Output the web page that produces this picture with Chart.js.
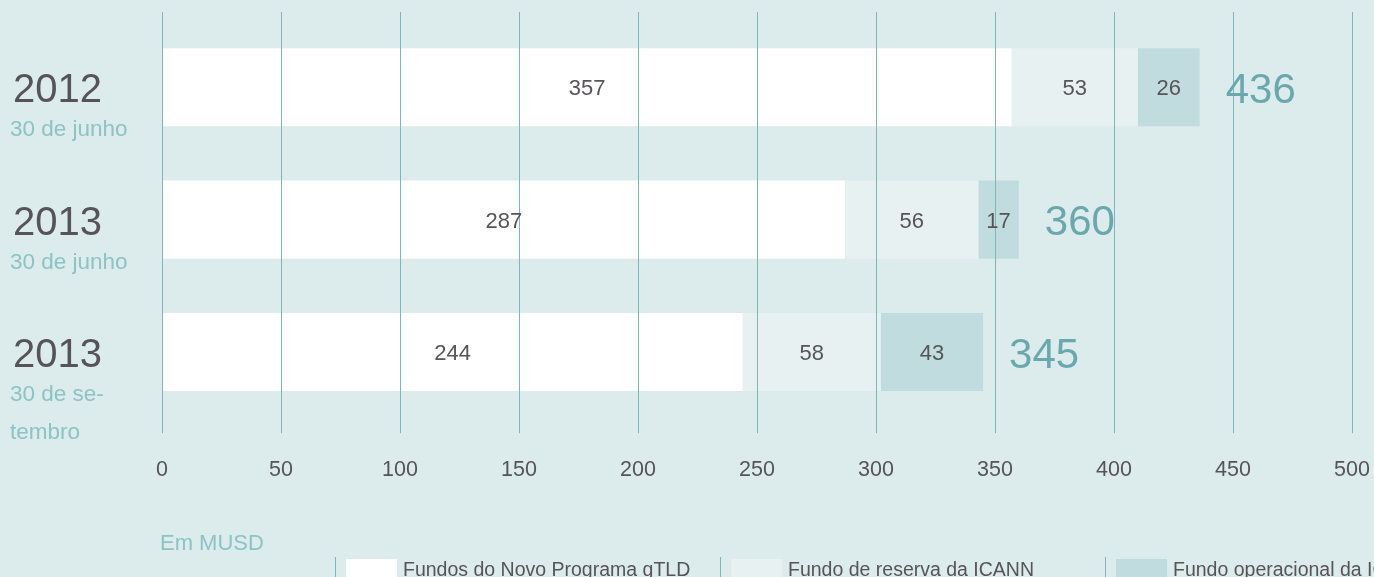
<!DOCTYPE html>
<html>
<head>
<meta charset="utf-8">
<script src="https://cdn.jsdelivr.net/npm/chart.js@4"></script>
<style>
  html, body { margin: 0; padding: 0; background: #dcebec; overflow: hidden; }
  canvas { display: block; }
</style>
</head>
<body>
<canvas id="chart" width="1374" height="577"></canvas>
<script>
// data (values in MUSD)
const years = ['2012', '2013', '2013'];
const dates = [['30 de junho'], ['30 de junho'], ['30 de se-', 'tembro']];
const gtldFunds = [357, 287, 244];
const reserveFund = [53, 56, 58];
const operatingFund = [26, 17, 43];
const totals = [436, 360, 345];
const seriesNames = ['Fundos do Novo Programa gTLD', 'Fundo de reserva da ICANN', 'Fundo operacional da ICANN'];
const unitNote = 'Em MUSD';

const FONT = '"Liberation Sans", Arial, sans-serif';
const DARK = '#575457';
const TEAL = '#6aa8ad';
const TEAL_LIGHT = '#8dc3c5';
const GRID = '#7db6b9';

// left category labels (year + date)
const sideLabels = {
  id: 'sideLabels',
  afterDraw(chart) {
    const ctx = chart.ctx;
    const y = chart.scales.y;
    ctx.save();
    ctx.textAlign = 'left';
    ctx.textBaseline = 'middle';
    years.forEach((yr, i) => {
      const cy = y.getPixelForValue(i);
      ctx.fillStyle = DARK;
      ctx.font = '40px ' + FONT;
      ctx.fillText(yr, 13, cy + 4);
      ctx.fillStyle = TEAL_LIGHT;
      ctx.font = '22.5px ' + FONT;
      dates[i].forEach((line, k) => ctx.fillText(line, 10, cy + 43 + k * 38));
    });
    ctx.restore();
  }
};

// numbers inside the segments and totals after the bars
const barLabels = {
  id: 'barLabels',
  afterDraw(chart) {
    const ctx = chart.ctx;
    ctx.save();
    ctx.textAlign = 'center';
    ctx.textBaseline = 'middle';
    ctx.font = '22px ' + FONT;
    ctx.fillStyle = DARK;
    chart.data.datasets.forEach((ds, d) => {
      chart.getDatasetMeta(d).data.forEach((el, i) => {
        ctx.fillText(String(ds.data[i]), (el.x + el.base) / 2, el.y + 2);
      });
    });
    const last = chart.getDatasetMeta(chart.data.datasets.length - 1).data;
    ctx.textAlign = 'left';
    ctx.font = '42px ' + FONT;
    ctx.fillStyle = TEAL;
    last.forEach((el, i) => ctx.fillText(String(totals[i]), el.x + 26, el.y + 4));
    ctx.restore();
  }
};

// grid lines reach a bit above the plot, note + custom legend at the bottom
const extras = {
  id: 'extras',
  afterDraw(chart) {
    const ctx = chart.ctx;
    const x = chart.scales.x;
    const top = chart.chartArea.top;
    ctx.save();
    ctx.strokeStyle = GRID;
    ctx.lineWidth = 1;
    x.ticks.forEach(t => {
      const px = Math.round(x.getPixelForValue(t.value) - 0.5) + 0.5;
      ctx.beginPath();
      ctx.moveTo(px, 12);
      ctx.lineTo(px, top);
      ctx.stroke();
    });

    ctx.fillStyle = TEAL_LIGHT;
    ctx.font = '22px ' + FONT;
    ctx.textAlign = 'left';
    ctx.textBaseline = 'alphabetic';
    ctx.fillText(unitNote, 160, 550);

    ctx.font = '19.5px ' + FONT;
    chart.data.datasets.forEach((ds, i) => {
      const lx = 335 + i * 385;
      ctx.strokeStyle = GRID;
      ctx.beginPath();
      ctx.moveTo(lx + 0.5, 557);
      ctx.lineTo(lx + 0.5, 577);
      ctx.stroke();
      ctx.fillStyle = ds.backgroundColor;
      ctx.fillRect(lx + 11, 559, 51, 18);
      ctx.fillStyle = DARK;
      ctx.fillText(seriesNames[i], lx + 68, 576);
    });
    ctx.restore();
  }
};

new Chart(document.getElementById('chart'), {
  type: 'bar',
  data: {
    labels: years,
    datasets: [
      { label: seriesNames[0], data: gtldFunds, backgroundColor: '#ffffff' },
      { label: seriesNames[1], data: reserveFund, backgroundColor: '#e7f1f2' },
      { label: seriesNames[2], data: operatingFund, backgroundColor: '#c0dcdf' }
    ]
  },
  options: {
    indexAxis: 'y',
    responsive: false,
    animation: false,
    devicePixelRatio: 1,
    layout: { padding: { left: 162, right: 22, top: 21, bottom: 70 } },
    datasets: { bar: { categoryPercentage: 1, barPercentage: 0.59, borderWidth: 0 } },
    scales: {
      x: {
        stacked: true,
        min: 0,
        max: 500,
        border: { display: false },
        grid: { z: 1, color: GRID, lineWidth: 1, tickLength: 15, drawTicks: true, tickColor: GRID },
        ticks: { stepSize: 50, color: DARK, padding: 24, maxRotation: 0, font: { family: FONT, size: 21.5 } },
        afterFit(scale) { scale.paddingLeft = 0; scale.paddingRight = 0; }
      },
      y: {
        stacked: true,
        display: false
      }
    },
    plugins: {
      legend: { display: false },
      tooltip: { enabled: false }
    }
  },
  plugins: [sideLabels, barLabels, extras]
});
</script>
</body>
</html>
